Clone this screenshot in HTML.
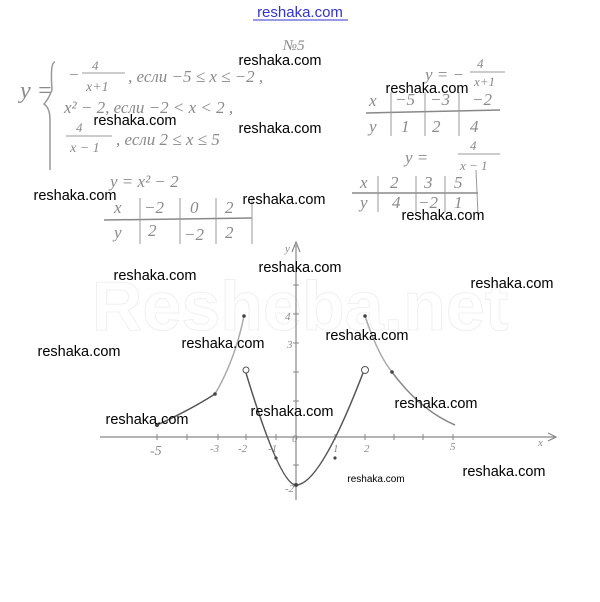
<!DOCTYPE html>
<html><head><meta charset="utf-8"><style>
html,body{margin:0;padding:0;background:#fff;}
svg{display:block}
.h{font-family:"Liberation Serif",serif;font-style:italic;fill:#8a8a8a;}
.w{font-family:"Liberation Sans",sans-serif;font-size:14.5px;fill:#000;}
</style></head><body>
<svg width="600" height="602" viewBox="0 0 600 602" xmlns="http://www.w3.org/2000/svg">
<rect width="600" height="602" fill="#fff"/>
<text x="300" y="17" text-anchor="middle" font-family="Liberation Sans,sans-serif" font-size="15" fill="#3333cc">reshaka.com</text>
<line x1="253" y1="20" x2="348" y2="20" stroke="#3333cc" stroke-width="1"/>

<g class="h" font-size="17">
<text x="20" y="98" font-size="24">y =</text>
<path d="M55 62 Q50 62 52 90 Q48 100 44 104 Q50 108 50 120 L50 170" stroke="#999" fill="none" stroke-width="1.5"/>
<text x="283" y="50" font-size="15">№5</text>
<text x="68" y="80">−</text><text x="92" y="70" font-size="13">4</text>
<line x1="82" y1="73" x2="125" y2="73" stroke="#999"/>
<text x="86" y="91" font-size="14">x+1</text>
<text x="128" y="82">, если  −5 ≤ x ≤ −2 ,</text>
<text x="64" y="113">x² − 2,  если  −2 &lt; x &lt; 2 ,</text>
<text x="76" y="132" font-size="13">4</text>
<line x1="66" y1="136" x2="112" y2="136" stroke="#999"/>
<text x="70" y="152" font-size="14">x − 1</text>
<text x="116" y="145">, если   2 ≤ x ≤ 5</text>

<text x="110" y="187">y = x² − 2</text>
<line x1="104" y1="220" x2="252" y2="218" stroke="#888" stroke-width="1.5"/>
<line x1="140" y1="198" x2="140" y2="244" stroke="#999"/>
<line x1="180" y1="198" x2="180" y2="244" stroke="#999"/>
<line x1="216" y1="198" x2="216" y2="244" stroke="#999"/>
<line x1="252" y1="198" x2="252" y2="244" stroke="#999"/>
<text x="114" y="213">x</text><text x="144" y="213">−2</text><text x="190" y="213">0</text><text x="225" y="213">2</text>
<text x="114" y="238">y</text><text x="148" y="236">2</text><text x="184" y="240">−2</text><text x="225" y="238">2</text>

<text x="425" y="80">y = −</text><text x="477" y="68" font-size="13">4</text>
<line x1="470" y1="72" x2="505" y2="72" stroke="#999"/><text x="474" y="86" font-size="13">x+1</text>
<line x1="366" y1="113" x2="500" y2="110" stroke="#888" stroke-width="1.5"/>
<line x1="391" y1="92" x2="391" y2="136" stroke="#999"/>
<line x1="425" y1="92" x2="425" y2="136" stroke="#999"/>
<line x1="459" y1="92" x2="459" y2="136" stroke="#999"/>
<text x="369" y="106">x</text><text x="395" y="105">−5</text><text x="430" y="105">−3</text><text x="472" y="105">−2</text>
<text x="369" y="132">y</text><text x="401" y="132">1</text><text x="432" y="132">2</text><text x="470" y="132">4</text>

<text x="405" y="163">y  =</text><text x="470" y="150" font-size="13">4</text>
<line x1="458" y1="154" x2="500" y2="154" stroke="#999"/><text x="460" y="170" font-size="13">x − 1</text>
<line x1="352" y1="193" x2="478" y2="193" stroke="#888" stroke-width="1.5"/>
<line x1="378" y1="176" x2="378" y2="212" stroke="#999"/>
<line x1="416" y1="176" x2="416" y2="212" stroke="#999"/>
<line x1="445" y1="176" x2="445" y2="212" stroke="#999"/>
<line x1="476" y1="170" x2="478" y2="215" stroke="#999"/>
<text x="360" y="188">x</text><text x="390" y="188">2</text><text x="424" y="188">3</text><text x="454" y="188">5</text>
<text x="360" y="208">y</text><text x="392" y="208">4</text><text x="418" y="208">−2</text><text x="454" y="208">1</text>
</g>

<!-- faint watermark -->
<text x="300" y="330" text-anchor="middle" font-family="Liberation Sans,sans-serif" font-size="70" font-weight="bold" fill="none" stroke="#f0f0f0" stroke-width="1">Resheba.net</text>

<!-- axes -->
<g stroke="#888" fill="none" stroke-width="1.2">
<line x1="100" y1="437" x2="555" y2="437"/>
<path d="M548 433 L556 437 L548 441"/>
<line x1="296" y1="245" x2="296" y2="500"/>
<path d="M292 252 L296 242 L300 252"/>
<g stroke-width="1">
<line x1="157" y1="434" x2="157" y2="440"/><line x1="187" y1="434" x2="187" y2="440"/><line x1="218" y1="434" x2="218" y2="440"/><line x1="246" y1="434" x2="246" y2="440"/><line x1="276" y1="434" x2="276" y2="440"/><line x1="335" y1="434" x2="335" y2="440"/><line x1="365" y1="434" x2="365" y2="440"/><line x1="394" y1="434" x2="394" y2="440"/><line x1="423" y1="434" x2="423" y2="440"/><line x1="453" y1="434" x2="453" y2="440"/>
<line x1="293" y1="285" x2="299" y2="285"/><line x1="293" y1="314" x2="299" y2="314"/><line x1="293" y1="343" x2="299" y2="343"/><line x1="293" y1="372" x2="299" y2="372"/><line x1="293" y1="401" x2="299" y2="401"/><line x1="293" y1="465" x2="299" y2="465"/><line x1="293" y1="485" x2="299" y2="485"/>
</g>
</g>
<g class="h" font-size="11">
<text x="150" y="455" font-size="14">-5</text><text x="210" y="452">-3</text><text x="238" y="452">-2</text><text x="268" y="452">-1</text>
<text x="292" y="442">0</text><text x="333" y="452">1</text><text x="364" y="452">2</text><text x="450" y="450">5</text><text x="538" y="446">x</text>
<text x="285" y="252">y</text><text x="285" y="320">4</text><text x="287" y="348">3</text><text x="285" y="492">-2</text>
</g>

<!-- curves -->
<g stroke="#555" fill="none" stroke-width="1.5">
<path d="M157 425 Q190 410 215 394"/>
<path d="M215 394 Q235 360 244 316" stroke="#aaa"/>
<path d="M246 373 Q280 485 296 485 Q320 485 363 373"/>
<path d="M365 316 Q378 355 392 372" stroke="#aaa"/>
<path d="M392 372 Q420 410 455 425" stroke="#888"/>
</g>
<g fill="#444">
<circle cx="157" cy="425" r="2"/><circle cx="244" cy="316" r="1.8"/><circle cx="215" cy="394" r="1.8"/>
<circle cx="296" cy="485" r="2"/><circle cx="365" cy="316" r="1.8"/><circle cx="392" cy="372" r="1.8"/>
<circle cx="276" cy="458" r="1.6"/><circle cx="335" cy="458" r="1.6"/>
</g>
<circle cx="246" cy="370" r="3" fill="#fff" stroke="#555"/>
<circle cx="365" cy="370" r="3.5" fill="#fff" stroke="#555"/>

<!-- watermarks -->
<g class="w" text-anchor="middle">
<text x="280" y="65">reshaka.com</text>
<text x="427" y="93">reshaka.com</text>
<text x="135" y="125">reshaka.com</text>
<text x="280" y="133">reshaka.com</text>
<text x="75" y="200">reshaka.com</text>
<text x="284" y="204">reshaka.com</text>
<text x="443" y="220">reshaka.com</text>
<text x="155" y="280">reshaka.com</text>
<text x="300" y="272">reshaka.com</text>
<text x="512" y="288">reshaka.com</text>
<text x="79" y="356">reshaka.com</text>
<text x="223" y="348">reshaka.com</text>
<text x="367" y="340">reshaka.com</text>
<text x="436" y="408">reshaka.com</text>
<text x="292" y="416">reshaka.com</text>
<text x="147" y="424">reshaka.com</text>
<text x="504" y="476">reshaka.com</text>
<text x="376" y="482" font-size="10">reshaka.com</text>
</g>
</svg>
</body></html>
